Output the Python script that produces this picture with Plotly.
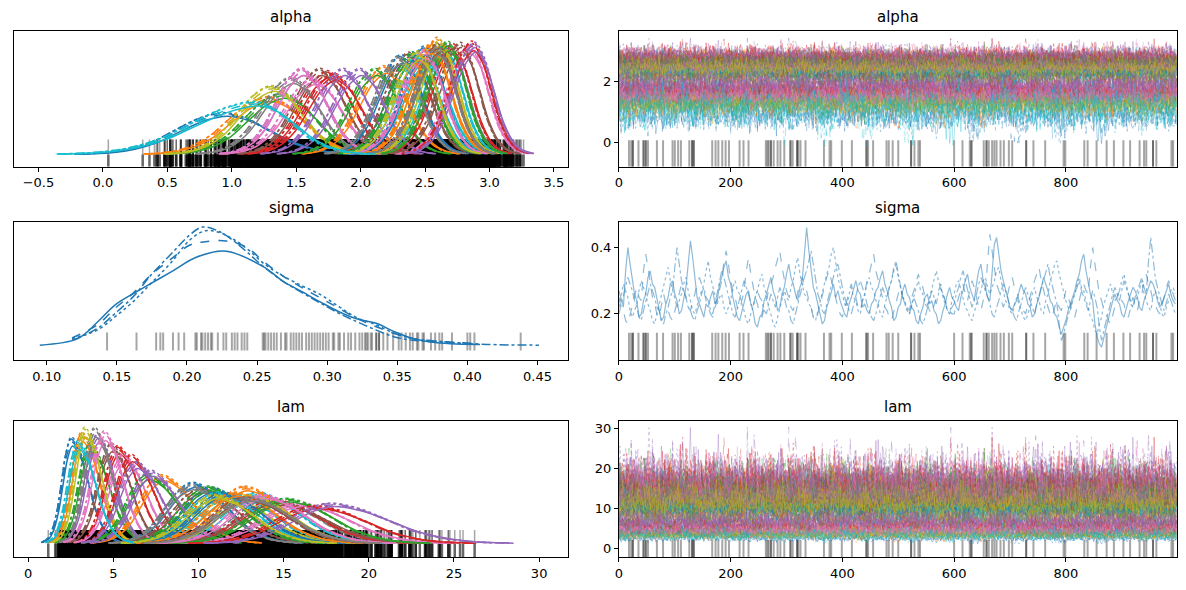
import plotly.graph_objects as go

# matplotlib tab10 cycle, chains drawn as linestyles
tab10 = ['#1f77b4', '#ff7f0e', '#2ca02c', '#d62728', '#9467bd',
         '#8c564b', '#e377c2', '#7f7f7f', '#bcbd22', '#17becf']
chain_dash = ['solid', 'dot', 'dash', 'dashdot']

div_draws = [18, 22, 25, 25, 35, 44, 44, 48, 48, 52, 68, 79, 96, 100, 106, 111, 126, 131, 131, 134,
             134, 167, 173, 178, 185, 191, 197, 216, 223, 232, 263, 266, 268, 272, 272, 277, 284, 289,
             296, 307, 307, 311, 319, 319, 321, 325, 334, 367, 377, 380, 399, 417, 443, 443, 446, 455,
             479, 483, 490, 500, 523, 523, 529, 536, 539, 600, 615, 628, 631, 631, 653, 658, 658, 662,
             668, 672, 676, 683, 689, 698, 704, 729, 729, 742, 763, 796, 799, 833, 839, 855, 873, 886,
             903, 915, 932, 940, 944, 956, 956, 962, 989, 992]

# sigma values at divergent draws
sigma_rug = [0.143, 0.164, 0.178, 0.181, 0.183, 0.190, 0.194, 0.198, 0.206, 0.207, 0.210, 0.211,
             0.213, 0.215, 0.217, 0.218, 0.222, 0.226, 0.228, 0.232, 0.234, 0.236, 0.239, 0.241,
             0.243, 0.254, 0.255, 0.256, 0.258, 0.260, 0.262, 0.264, 0.267, 0.270, 0.271, 0.274,
             0.276, 0.278, 0.280, 0.282, 0.285, 0.287, 0.289, 0.291, 0.293, 0.295, 0.297, 0.299,
             0.301, 0.304, 0.305, 0.308, 0.309, 0.312, 0.315, 0.317, 0.320, 0.323, 0.325, 0.327,
             0.328, 0.329, 0.331, 0.332, 0.335, 0.335, 0.337, 0.337, 0.340, 0.343, 0.347, 0.351,
             0.353, 0.356, 0.359, 0.361, 0.364, 0.365, 0.368, 0.369, 0.374, 0.377, 0.380, 0.382,
             0.389, 0.400, 0.402, 0.405, 0.438]

# sigma KDE per chain (solid, dotted, dashed, dashdot)
sigma_kde_x = [
    [0.095, 0.122, 0.136, 0.149, 0.162, 0.170, 0.189, 0.207, 0.228, 0.255, 0.268, 0.282, 0.295,
     0.308, 0.321, 0.335, 0.348, 0.361, 0.374, 0.388, 0.409],
    [0.118, 0.136, 0.149, 0.162, 0.175, 0.189, 0.202, 0.213, 0.223, 0.234, 0.244, 0.255, 0.268,
     0.282, 0.295, 0.308, 0.321, 0.335, 0.348, 0.361, 0.388, 0.409],
    [0.118, 0.136, 0.149, 0.162, 0.175, 0.189, 0.202, 0.213, 0.228, 0.242, 0.255, 0.268, 0.282,
     0.295, 0.308, 0.321, 0.335, 0.348, 0.361, 0.388, 0.409],
    [0.118, 0.136, 0.149, 0.162, 0.175, 0.189, 0.202, 0.211, 0.223, 0.234, 0.244, 0.255, 0.268,
     0.282, 0.295, 0.308, 0.321, 0.335, 0.348, 0.361, 0.388, 0.414, 0.451],
]
sigma_kde_y = [
    [0.02, 0.49, 1.66, 2.93, 3.74, 4.20, 5.30, 6.35, 6.77, 5.62, 4.64, 3.86, 3.13, 2.44, 1.91,
     1.59, 0.98, 0.49, 0.24, 0.12, 0.07],
    [0.49, 1.10, 2.08, 3.18, 4.52, 5.99, 7.57, 8.23, 8.11, 7.57, 6.84, 5.86, 5.01, 4.28, 3.66,
     2.81, 2.00, 1.47, 0.86, 0.49, 0.24, 0.07],
    [0.54, 1.47, 2.69, 3.79, 5.13, 6.23, 7.21, 7.45, 7.50, 7.08, 5.99, 5.01, 4.15, 3.42, 2.69,
     1.95, 1.34, 0.86, 0.49, 0.24, 0.12],
    [0.37, 1.22, 2.32, 3.54, 5.13, 6.60, 7.94, 8.50, 8.18, 7.45, 6.60, 5.62, 4.64, 3.79, 3.05,
     2.32, 1.71, 1.10, 0.61, 0.37, 0.20, 0.07, 0.02],
]

# sigma traces per chain: values at draws 0, 8, 16, ...
sigma_trace_a = [
    [0.27, 0.22, 0.40, 0.31, 0.24, 0.20, 0.26, 0.33, 0.28, 0.22, 0.19, 0.25, 0.30, 0.24, 0.21, 0.28, 0.42, 0.30, 0.23, 0.19, 0.22, 0.27, 0.24, 0.31, 0.36,
     0.29, 0.22, 0.18, 0.23, 0.27, 0.21, 0.16, 0.20, 0.26, 0.31, 0.25, 0.22, 0.28, 0.35, 0.29, 0.24, 0.30, 0.46, 0.33, 0.26, 0.21, 0.18, 0.24, 0.29, 0.27,
     0.22, 0.19, 0.25, 0.30, 0.26, 0.23, 0.20, 0.24, 0.28, 0.33, 0.27, 0.22, 0.19, 0.23, 0.29, 0.25, 0.21, 0.17, 0.22, 0.26, 0.24, 0.20, 0.18, 0.23, 0.28,
     0.24, 0.21, 0.27, 0.32, 0.26, 0.29, 0.35, 0.28, 0.24, 0.41, 0.38, 0.30, 0.25, 0.21, 0.24, 0.29, 0.26, 0.22, 0.20, 0.25, 0.31, 0.27, 0.23, 0.19, 0.14,
     0.18, 0.23, 0.27, 0.32, 0.38, 0.29, 0.24, 0.13, 0.10, 0.16, 0.21, 0.26, 0.23, 0.19, 0.24, 0.28, 0.25, 0.21, 0.26, 0.30, 0.27, 0.22, 0.25, 0.29, 0.24],
    [0.22, 0.29, 0.25, 0.19, 0.23, 0.30, 0.26, 0.21, 0.17, 0.23, 0.28, 0.34, 0.27, 0.22, 0.26, 0.31, 0.24, 0.20, 0.25, 0.29, 0.36, 0.28, 0.23, 0.26, 0.20,
     0.24, 0.30, 0.26, 0.21, 0.17, 0.22, 0.27, 0.32, 0.26, 0.20, 0.16, 0.22, 0.27, 0.24, 0.30, 0.37, 0.29, 0.25, 0.22, 0.18, 0.23, 0.29, 0.34, 0.40, 0.31,
     0.26, 0.22, 0.28, 0.24, 0.20, 0.26, 0.31, 0.27, 0.23, 0.19, 0.25, 0.30, 0.35, 0.28, 0.24, 0.20, 0.25, 0.30, 0.26, 0.22, 0.27, 0.33, 0.28, 0.23, 0.20,
     0.26, 0.30, 0.25, 0.21, 0.18, 0.23, 0.27, 0.31, 0.26, 0.30, 0.34, 0.27, 0.23, 0.20, 0.25, 0.21, 0.18, 0.22, 0.28, 0.24, 0.20, 0.26, 0.32, 0.36, 0.29,
     0.24, 0.21, 0.26, 0.31, 0.27, 0.22, 0.18, 0.14, 0.19, 0.25, 0.29, 0.24, 0.27, 0.32, 0.26, 0.22, 0.25, 0.30, 0.24, 0.21, 0.27, 0.23, 0.19, 0.24, 0.28],
    [0.25, 0.21, 0.17, 0.23, 0.28, 0.24, 0.38, 0.29, 0.23, 0.19, 0.26, 0.21, 0.18, 0.24, 0.29, 0.25, 0.21, 0.26, 0.31, 0.27, 0.22, 0.19, 0.25, 0.30, 0.39,
     0.30, 0.25, 0.21, 0.27, 0.37, 0.28, 0.23, 0.19, 0.24, 0.29, 0.34, 0.39, 0.30, 0.25, 0.21, 0.26, 0.31, 0.27, 0.22, 0.18, 0.23, 0.28, 0.33, 0.27, 0.22,
     0.19, 0.24, 0.29, 0.25, 0.21, 0.26, 0.32, 0.38, 0.30, 0.25, 0.21, 0.18, 0.23, 0.28, 0.24, 0.21, 0.27, 0.32, 0.28, 0.23, 0.20, 0.25, 0.29, 0.24, 0.21,
     0.20, 0.25, 0.29, 0.24, 0.30, 0.25, 0.21, 0.27, 0.44, 0.33, 0.27, 0.22, 0.26, 0.31, 0.27, 0.23, 0.20, 0.25, 0.30, 0.34, 0.27, 0.22, 0.19, 0.24, 0.21,
     0.27, 0.23, 0.19, 0.24, 0.29, 0.26, 0.40, 0.30, 0.24, 0.20, 0.17, 0.22, 0.27, 0.23, 0.19, 0.25, 0.21, 0.26, 0.32, 0.27, 0.23, 0.20, 0.25, 0.30, 0.26],
    [0.20, 0.26, 0.31, 0.27, 0.22, 0.18, 0.24, 0.29, 0.25, 0.21, 0.17, 0.22, 0.27, 0.40, 0.30, 0.25, 0.21, 0.18, 0.23, 0.28, 0.24, 0.20, 0.26, 0.33, 0.28,
     0.23, 0.19, 0.25, 0.30, 0.26, 0.22, 0.27, 0.24, 0.20, 0.26, 0.22, 0.28, 0.25, 0.21, 0.17, 0.23, 0.28, 0.33, 0.39, 0.30, 0.24, 0.20, 0.26, 0.31, 0.35,
     0.28, 0.23, 0.20, 0.25, 0.30, 0.26, 0.21, 0.18, 0.23, 0.28, 0.25, 0.30, 0.36, 0.28, 0.23, 0.20, 0.25, 0.21, 0.17, 0.22, 0.27, 0.23, 0.28, 0.24, 0.20,
     0.23, 0.28, 0.33, 0.27, 0.22, 0.26, 0.31, 0.27, 0.23, 0.19, 0.24, 0.29, 0.25, 0.21, 0.18, 0.23, 0.28, 0.24, 0.20, 0.26, 0.30, 0.35, 0.28, 0.23, 0.12,
     0.17, 0.22, 0.26, 0.30, 0.25, 0.21, 0.27, 0.22, 0.12, 0.18, 0.23, 0.28, 0.24, 0.30, 0.26, 0.22, 0.27, 0.31, 0.26, 0.43, 0.31, 0.25, 0.21, 0.26, 0.22],
]
# ... and at draws 4, 12, 20, ...
sigma_trace_b = [
    [0.24, 0.33, 0.35, 0.26, 0.19, 0.24, 0.31, 0.29, 0.25, 0.18, 0.23, 0.29, 0.26, 0.20, 0.25, 0.35, 0.37, 0.25, 0.21, 0.23, 0.25, 0.23, 0.29, 0.34, 0.31,
     0.25, 0.19, 0.21, 0.26, 0.23, 0.17, 0.19, 0.24, 0.29, 0.27, 0.21, 0.26, 0.32, 0.31, 0.26, 0.28, 0.38, 0.39, 0.28, 0.23, 0.17, 0.22, 0.27, 0.25, 0.24,
     0.20, 0.23, 0.28, 0.27, 0.22, 0.21, 0.23, 0.27, 0.31, 0.29, 0.24, 0.18, 0.22, 0.27, 0.26, 0.22, 0.18, 0.20, 0.25, 0.23, 0.21, 0.17, 0.21, 0.26, 0.25,
     0.22, 0.25, 0.30, 0.28, 0.24, 0.33, 0.30, 0.25, 0.34, 0.43, 0.33, 0.27, 0.22, 0.23, 0.27, 0.27, 0.23, 0.19, 0.23, 0.28, 0.29, 0.24, 0.20, 0.16, 0.16,
     0.21, 0.25, 0.30, 0.36, 0.33, 0.26, 0.17, 0.11, 0.13, 0.19, 0.24, 0.24, 0.20, 0.22, 0.26, 0.27, 0.22, 0.24, 0.28, 0.29, 0.24, 0.23, 0.27, 0.26, 0.23],
    [0.26, 0.27, 0.21, 0.21, 0.27, 0.28, 0.23, 0.18, 0.20, 0.26, 0.32, 0.30, 0.24, 0.24, 0.29, 0.27, 0.21, 0.23, 0.27, 0.33, 0.31, 0.25, 0.25, 0.22, 0.22,
     0.28, 0.27, 0.23, 0.18, 0.20, 0.25, 0.30, 0.28, 0.22, 0.17, 0.19, 0.25, 0.25, 0.28, 0.34, 0.32, 0.26, 0.23, 0.19, 0.21, 0.27, 0.32, 0.38, 0.35, 0.28,
     0.23, 0.26, 0.25, 0.21, 0.24, 0.29, 0.28, 0.24, 0.20, 0.23, 0.28, 0.33, 0.31, 0.25, 0.21, 0.23, 0.28, 0.27, 0.23, 0.25, 0.31, 0.30, 0.25, 0.21, 0.24,
     0.29, 0.27, 0.22, 0.19, 0.21, 0.25, 0.30, 0.28, 0.28, 0.33, 0.30, 0.24, 0.21, 0.23, 0.23, 0.19, 0.20, 0.26, 0.25, 0.21, 0.24, 0.30, 0.35, 0.32, 0.26,
     0.22, 0.24, 0.29, 0.28, 0.24, 0.19, 0.15, 0.17, 0.23, 0.27, 0.26, 0.25, 0.30, 0.29, 0.23, 0.24, 0.28, 0.26, 0.22, 0.25, 0.25, 0.20, 0.22, 0.27, 0.26],
    [0.22, 0.18, 0.20, 0.26, 0.25, 0.33, 0.34, 0.25, 0.20, 0.23, 0.23, 0.19, 0.21, 0.27, 0.27, 0.22, 0.24, 0.29, 0.29, 0.24, 0.20, 0.22, 0.28, 0.36, 0.35,
     0.27, 0.22, 0.24, 0.33, 0.32, 0.25, 0.20, 0.22, 0.27, 0.31, 0.37, 0.34, 0.27, 0.22, 0.24, 0.29, 0.29, 0.24, 0.19, 0.20, 0.26, 0.31, 0.30, 0.24, 0.20,
     0.22, 0.27, 0.26, 0.22, 0.24, 0.30, 0.35, 0.33, 0.27, 0.22, 0.19, 0.21, 0.26, 0.25, 0.22, 0.25, 0.30, 0.29, 0.25, 0.21, 0.23, 0.27, 0.26, 0.22, 0.20,
     0.23, 0.27, 0.26, 0.27, 0.28, 0.22, 0.24, 0.36, 0.39, 0.29, 0.24, 0.24, 0.29, 0.28, 0.24, 0.21, 0.23, 0.28, 0.32, 0.30, 0.24, 0.20, 0.22, 0.22, 0.24,
     0.25, 0.20, 0.22, 0.27, 0.27, 0.34, 0.35, 0.26, 0.21, 0.18, 0.20, 0.25, 0.24, 0.20, 0.22, 0.23, 0.24, 0.30, 0.29, 0.24, 0.21, 0.23, 0.28, 0.28, 0.24],
    [0.23, 0.29, 0.29, 0.24, 0.19, 0.21, 0.27, 0.27, 0.22, 0.18, 0.20, 0.25, 0.34, 0.35, 0.27, 0.22, 0.19, 0.21, 0.26, 0.25, 0.21, 0.23, 0.30, 0.31, 0.25,
     0.20, 0.22, 0.28, 0.28, 0.23, 0.25, 0.25, 0.21, 0.23, 0.24, 0.25, 0.26, 0.22, 0.18, 0.20, 0.26, 0.31, 0.36, 0.35, 0.26, 0.21, 0.23, 0.29, 0.34, 0.31,
     0.25, 0.21, 0.23, 0.28, 0.28, 0.23, 0.19, 0.20, 0.26, 0.26, 0.28, 0.34, 0.32, 0.25, 0.21, 0.23, 0.23, 0.18, 0.19, 0.25, 0.25, 0.26, 0.26, 0.21, 0.22,
     0.26, 0.31, 0.30, 0.24, 0.24, 0.29, 0.29, 0.25, 0.20, 0.22, 0.27, 0.27, 0.22, 0.19, 0.21, 0.26, 0.26, 0.22, 0.23, 0.28, 0.33, 0.31, 0.25, 0.17, 0.14,
     0.20, 0.24, 0.28, 0.27, 0.23, 0.24, 0.25, 0.16, 0.15, 0.21, 0.26, 0.26, 0.27, 0.28, 0.24, 0.25, 0.29, 0.28, 0.36, 0.37, 0.28, 0.23, 0.24, 0.24, 0.20],
]

# alpha: per group posterior mode, relative peak height, left/right spread
alpha_mode = [0.95, 1.29, 1.40, 1.75, 1.55, 1.69, 1.64, 1.47, 1.32, 2.65,
              2.32, 2.19, 2.12, 1.80, 1.87, 2.38, 1.55, 2.69, 2.55, 2.52,
              2.41, 2.60, 2.41, 2.72, 2.00, 2.78, 2.85, 2.30, 2.62, 2.45,
              2.50, 2.55, 2.68, 2.87, 2.89, 2.60, 2.50, 2.60, 2.45, 1.20]
alpha_peak = [0.34, 0.47, 0.50, 0.68, 0.70, 0.70, 0.62, 0.63, 0.56, 0.90,
              0.81, 0.72, 0.70, 0.66, 0.70, 0.83, 0.70, 0.90, 0.89, 0.77,
              0.83, 0.95, 0.83, 0.90, 0.70, 0.91, 0.89, 0.80, 0.93, 0.82,
              0.88, 0.90, 0.92, 0.92, 0.91, 0.90, 0.85, 0.88, 0.84, 0.43]
alpha_sd_lo = [0.36, 0.30, 0.28, 0.21, 0.20, 0.20, 0.22, 0.23, 0.26, 0.17,
               0.18, 0.20, 0.20, 0.21, 0.20, 0.18, 0.20, 0.17, 0.17, 0.19,
               0.18, 0.16, 0.18, 0.17, 0.20, 0.17, 0.17, 0.18, 0.16, 0.18,
               0.17, 0.17, 0.16, 0.17, 0.17, 0.17, 0.18, 0.17, 0.18, 0.48]
alpha_sd_hi = [0.34, 0.27, 0.25, 0.19, 0.19, 0.19, 0.21, 0.21, 0.23, 0.14,
               0.16, 0.18, 0.18, 0.20, 0.19, 0.16, 0.19, 0.14, 0.15, 0.16,
               0.16, 0.14, 0.16, 0.14, 0.18, 0.14, 0.14, 0.16, 0.14, 0.16,
               0.15, 0.15, 0.14, 0.14, 0.14, 0.14, 0.15, 0.14, 0.15, 0.28]

# lam: same groups
lam_mode = [2.57, 3.16, 3.64, 5.30, 4.10, 4.90, 5.60, 3.93, 3.35, 13.5,
            9.70, 7.90, 7.04, 6.07, 6.36, 10.2, 4.50, 14.3, 11.7, 12.1,
            10.8, 12.75, 10.6, 14.5, 7.20, 14.7, 16.0, 9.60, 13.0, 11.2,
            11.5, 12.2, 15.2, 16.9, 17.8, 12.8, 13.8, 13.0, 11.0, 2.96]
lam_peak = [0.87, 0.91, 0.82, 0.80, 0.90, 0.82, 0.73, 0.95, 0.95, 0.42,
            0.50, 0.56, 0.57, 0.73, 0.67, 0.45, 0.92, 0.37, 0.40, 0.41,
            0.46, 0.47, 0.47, 0.36, 0.60, 0.34, 0.33, 0.48, 0.40, 0.42,
            0.42, 0.42, 0.37, 0.31, 0.33, 0.38, 0.40, 0.38, 0.40, 0.84]
lam_sd_lo = [0.55, 0.60, 0.65, 0.80, 0.70, 0.80, 0.90, 0.65, 0.60, 1.90,
             1.50, 1.30, 1.20, 0.90, 1.00, 1.60, 0.75, 2.00, 1.80, 1.80,
             1.60, 1.70, 1.60, 2.00, 1.10, 2.10, 2.20, 1.50, 1.80, 1.70,
             1.70, 1.80, 2.10, 2.30, 2.30, 1.90, 1.90, 1.90, 1.70, 0.60]
lam_sd_hi = [0.95, 1.00, 1.10, 1.20, 1.00, 1.10, 1.30, 1.00, 0.95, 2.40,
             2.00, 1.80, 1.70, 1.30, 1.40, 2.10, 1.05, 2.60, 2.30, 2.30,
             2.10, 2.30, 2.10, 2.60, 1.60, 2.70, 2.80, 2.00, 2.40, 2.20,
             2.20, 2.30, 2.60, 2.90, 3.30, 2.40, 2.40, 2.40, 2.20, 1.00]

# bell profile (offset in spreads, fraction of peak)
bell_dx = [-3.2, -2.5, -2.0, -1.5, -1.0, -0.5, 0.0, 0.5, 1.0, 1.5, 2.0, 2.5, 3.2]
bell_y = [0.01, 0.05, 0.14, 0.32, 0.61, 0.88, 1.0, 0.88, 0.61, 0.32, 0.14, 0.05, 0.01]
# small differences between the four chains
chain_peak = [0.96, 1.05, 1.0, 1.03]
chain_shift = [0.05, -0.04, 0.0, -0.06]


def rgba(hex_color, a):
    h = hex_color.lstrip('#')
    return 'rgba(%d,%d,%d,%.2f)' % (int(h[0:2], 16), int(h[2:4], 16), int(h[4:6], 16), a)


def standardize(vals):
    m = sum(vals) / len(vals)
    sd = (sum((v - m) ** 2 for v in vals) / len(vals)) ** 0.5
    return [(v - m) / sd for v in vals]


# merge the two readings into one chain, draws 0, 4, 8, ...
sigma_trace = []
for a, b in zip(sigma_trace_a, sigma_trace_b):
    seq = []
    for va, vb in zip(a, b):
        seq += [va, vb]
    sigma_trace.append(seq)
draw_x = [4 * k for k in range(len(sigma_trace[0]))]
sigma_z = [standardize(ch) for ch in sigma_trace]
n_z = len(sigma_z[0])
fine_x = [2 * k for k in range(2 * n_z)]


def group_trace(mode, lo, hi, g, c):
    # every other draw taken from a neighbouring chain shape, so the band gets dense
    s = (g * 53 + c * 19) % n_z
    out = []
    for k in range(2 * n_z):
        z = sigma_z[(c + k) % 4]
        zz = z[(k // 2 + s) % n_z]
        out.append(mode + (hi if zz > 0 else lo) * zz)
    return out


def rug_xy(values, y0, y1):
    xs, ys = [], []
    for v in values:
        xs += [v, v, None]
        ys += [y0, y1, None]
    return xs, ys


W, H = 1186, 590
cols = [(10, 566), (617, 1177)]
rows = [(30, 166), (221, 360), (421, 557)]

fig = go.Figure()
ax = {}
for r in range(3):
    for c in range(2):
        k = r * 2 + c + 1
        ax[(r, c)] = ('x%d' % k if k > 1 else 'x', 'y%d' % k if k > 1 else 'y')


def add(rc, **kw):
    xa, ya = ax[rc]
    fig.add_trace(go.Scatter(xaxis=xa, yaxis=ya, showlegend=False, hoverinfo='skip', **kw))


ranges = {
    (0, 0): ([-0.69, 3.61], [-0.103, 1.051]),
    (0, 1): ([0, 999], [-0.80, 3.65]),
    (1, 0): ([0.0766, 0.4718], [-1.075, 8.89]),
    (1, 1): ([0, 999], [0.06, 0.478]),
    (2, 0): ([-0.83, 31.7], [-0.116, 1.047]),
    (2, 1): ([0, 999], [-2.17, 31.7]),
}
rug_frac = {(0, 1): 0.195, (1, 1): 0.20, (2, 1): 0.128}
rug_col = 'rgba(0,0,0,0.35)'

# trace panels: divergence rug first (behind)
for r in range(3):
    lo_y, hi_y = ranges[(r, 1)][1]
    xs, ys = rug_xy(div_draws, lo_y, lo_y + rug_frac[(r, 1)] * (hi_y - lo_y))
    add((r, 1), x=xs, y=ys, mode='lines', line=dict(color=rug_col, width=2))

# alpha and lam: densities and traces per group
for r, (mode_l, peak_l, lo_l, hi_l) in [(0, (alpha_mode, alpha_peak, alpha_sd_lo, alpha_sd_hi)),
                                         (2, (lam_mode, lam_peak, lam_sd_lo, lam_sd_hi))]:
    ylo = ranges[(r, 0)][1][0]
    traces = []
    for g in range(len(mode_l)):
        for c in range(4):
            traces.append((g, c, group_trace(mode_l[g], lo_l[g], hi_l[g], g, c)))
    # density rug: values at the divergent draws
    rug_vals = []
    for g, c, vals in traces:
        for j, d in enumerate(div_draws):
            if j % 4 == c:
                rug_vals.append(vals[min(d // 2, len(vals) - 1)])
    top = 0.128 if r == 0 else 0.116
    xs, ys = rug_xy(rug_vals, ylo, 0)
    add((r, 0), x=xs, y=ys, mode='lines', line=dict(color='rgba(0,0,0,0.6)', width=2.5))
    xs, ys = rug_xy(rug_vals, 0, top)
    add((r, 0), x=xs, y=ys, mode='lines', line=dict(color=rug_col, width=1.5))

    for g in range(len(mode_l)):
        col = tab10[g % 10]
        for c in range(4):
            m = mode_l[g] + chain_shift[c] * (lo_l[g] + hi_l[g]) / 2
            p = peak_l[g] * chain_peak[c]
            bx = [m + d * (lo_l[g] if d < 0 else hi_l[g]) for d in bell_dx]
            by = [p * b for b in bell_y]
            add((r, 0), x=bx, y=by, mode='lines',
                line=dict(color=col, width=1.5, dash=chain_dash[c], shape='spline'))
    for g, c, vals in traces:
        add((r, 1), x=fine_x, y=vals, mode='lines',
            line=dict(color=rgba(tab10[g % 10], 0.35), width=1, dash=chain_dash[c]))

# sigma
xs, ys = rug_xy(sigma_rug, -0.37, 0.93)
add((1, 0), x=xs, y=ys, mode='lines', line=dict(color=rug_col, width=2))
for c in range(4):
    add((1, 0), x=sigma_kde_x[c], y=sigma_kde_y[c], mode='lines',
        line=dict(color=tab10[0], width=1.5, dash=chain_dash[c], shape='spline'))
    add((1, 1), x=draw_x, y=sigma_trace[c], mode='lines',
        line=dict(color=rgba(tab10[0], 0.5), width=1.2, dash=chain_dash[c]))

font = dict(family='DejaVu Sans', size=13, color='black')
layout = dict(width=W, height=H, margin=dict(l=0, r=0, t=0, b=0),
              paper_bgcolor='white', plot_bgcolor='white', font=font, showlegend=False)

xticks = {
    (0, 0): ([-0.5, 0.0, 0.5, 1.0, 1.5, 2.0, 2.5, 3.0, 3.5], '.1f'),
    (1, 0): ([0.10, 0.15, 0.20, 0.25, 0.30, 0.35, 0.40, 0.45], '.2f'),
    (2, 0): ([0, 5, 10, 15, 20, 25, 30], 'd'),
}
yticks = {(0, 1): [0, 2], (1, 1): [0.2, 0.4], (2, 1): [0, 10, 20, 30]}
titles = ['alpha', 'sigma', 'lam']

annotations = []
for r in range(3):
    for c in range(2):
        k = r * 2 + c + 1
        x0, x1 = cols[c]
        y0, y1 = rows[r]
        xr, yr = ranges[(r, c)]
        base = dict(showline=True, mirror=True, linecolor='black', linewidth=1,
                    showgrid=False, zeroline=False, ticks='outside', ticklen=4,
                    tickcolor='black', tickfont=font)
        xd = dict(base, domain=[x0 / W, x1 / W], range=xr,
                  anchor='y%d' % k if k > 1 else 'y')
        if c == 0:
            xd.update(tickvals=xticks[(r, 0)][0], tickformat=xticks[(r, 0)][1])
        else:
            xd.update(tickvals=[0, 200, 400, 600, 800])
        yd = dict(base, domain=[1 - y1 / H, 1 - y0 / H], range=yr,
                  anchor='x%d' % k if k > 1 else 'x')
        if c == 0:
            yd.update(showticklabels=False, ticks='')
        else:
            yd.update(tickvals=yticks[(r, 1)])
        layout['xaxis%d' % k if k > 1 else 'xaxis'] = xd
        layout['yaxis%d' % k if k > 1 else 'yaxis'] = yd
        annotations.append(dict(text=titles[r], x=(x0 + x1) / 2 / W, y=1 - y0 / H,
                                xref='paper', yref='paper', xanchor='center', yanchor='bottom',
                                yshift=3, showarrow=False,
                                font=dict(family='DejaVu Sans', size=15, color='black')))
layout['annotations'] = annotations
fig.update_layout(**layout)

# page body margin would push the figure off the window edges
fig.write_html('out.html', config={'displayModeBar': False},
               post_script="document.body.style.margin='0px';")
